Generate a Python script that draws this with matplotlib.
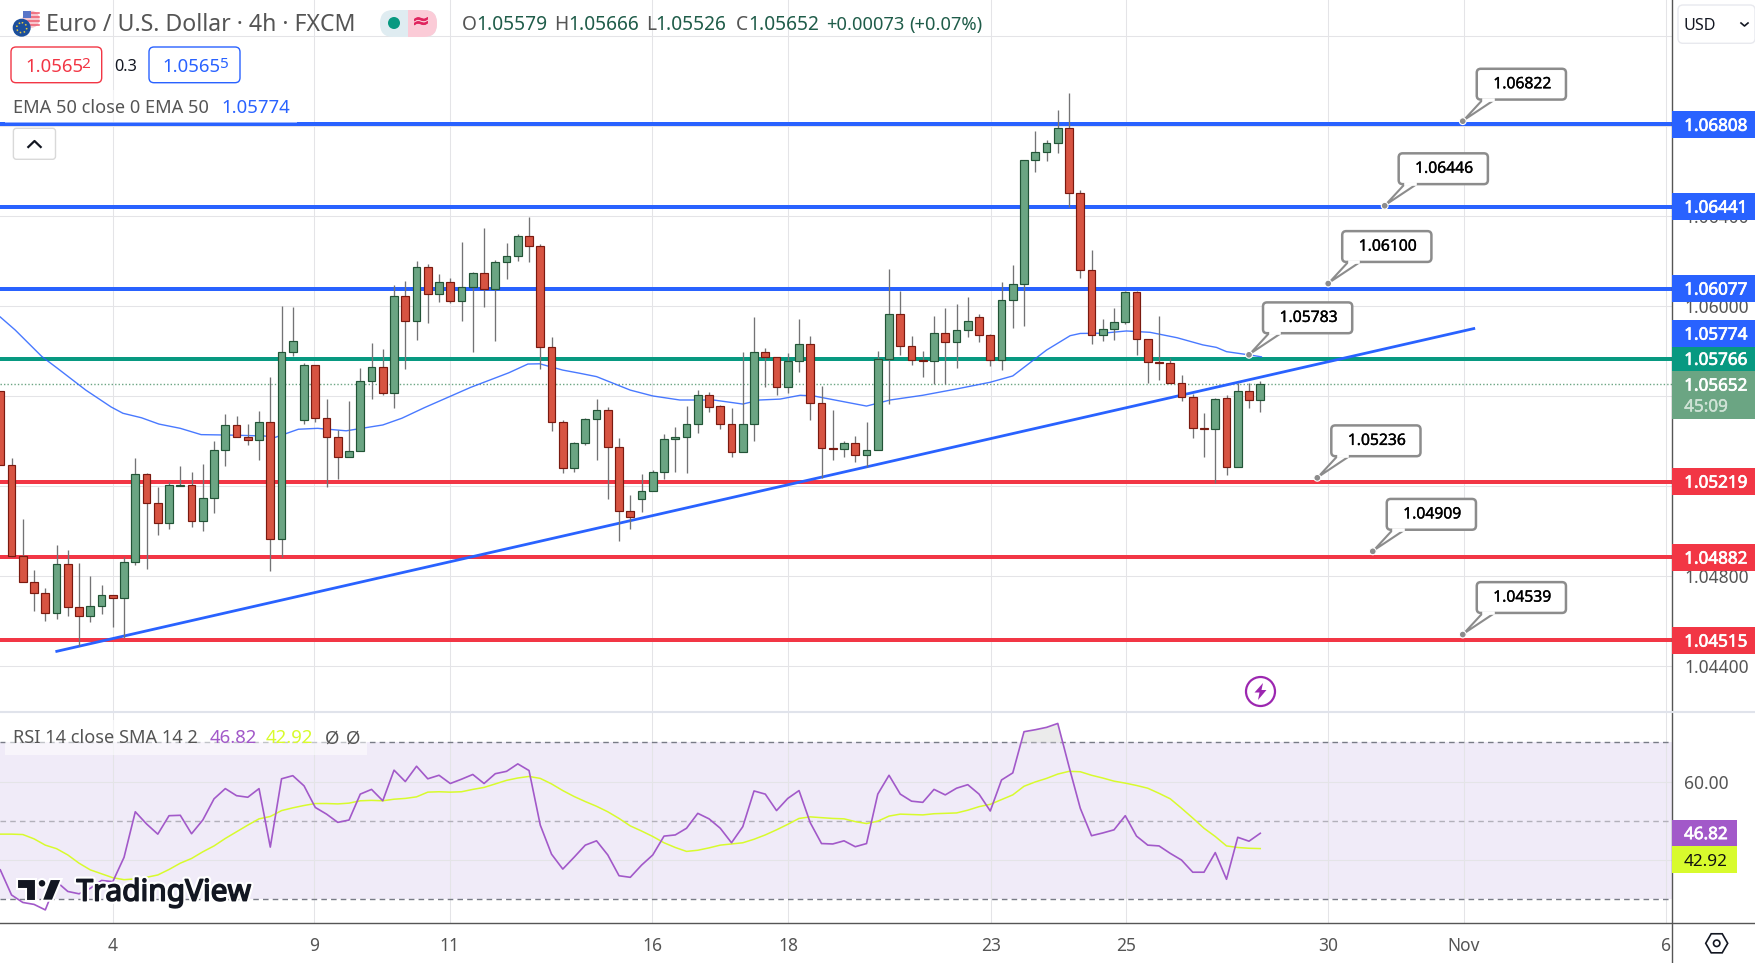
import numpy as np
import matplotlib
matplotlib.use("Agg")
import matplotlib.pyplot as plt
import matplotlib.patheffects as pe
from matplotlib.patches import FancyBboxPatch, Rectangle, Circle, Polygon

plt.rcParams['font.family'] = ['Noto Sans', 'DejaVu Sans']

# ---------- data (prices in 1e-5 units) ----------
opens = [105622,105293,104890,104771,104722,104633,104851,104660,104620,104665,104713,104700,104860,105252,105123,105034,105201,105203,105043,105145,
105358,105469,105416,105403,105483,104963,105794,105492,105736,105501,105416,105330,105354,105665,105727,105612,106043,105932,106172,106052,
106105,106024,106083,106145,106074,106194,106221,106310,106265,105816,105483,105278,105389,105496,105536,105374,105090,105140,105176,105260,
105407,105416,105474,105603,105554,105474,105352,105474,105794,105772,105641,105754,105830,105567,105367,105363,105389,105336,105358,105763,
105963,105821,105759,105754,105879,105839,105892,105950,105870,105759,106025,106096,106648,106683,106724,106790,106501,106159,105870,105896,
105928,106061,105852,105751,105745,105659,105594,105456,105452,105590,105283,105621,105581]
closes = [105293,104890,104771,104722,104633,104851,104660,104620,104665,104713,104700,104860,105252,105123,105034,105203,105204,105043,105145,105358,
105469,105416,105403,105483,104963,105794,105843,105736,105501,105416,105330,105354,105665,105727,105612,106043,105932,106172,106052,106105,
106024,106083,106145,106074,106194,106221,106310,106265,105816,105483,105278,105389,105496,105536,105374,105090,105063,105176,105260,105407,
105416,105474,105603,105552,105474,105352,105474,105794,105772,105641,105754,105830,105567,105367,105363,105389,105336,105358,105763,105963,
105821,105759,105754,105879,105839,105892,105932,105870,105759,106025,106096,106648,106683,106724,106790,106501,106159,105870,105896,105928,
106061,105852,105750,105745,105659,105594,105456,105452,105585,105283,105621,105581,105652]
highs = [105622,105324,105053,104826,104746,104937,104915,104857,104799,104759,104715,104885,105323,105256,105194,105219,105288,105260,105296,105400,
105520,105511,105475,105533,105684,106000,105996,105745,105738,105586,105449,105578,105724,105834,105809,106093,106111,106200,106185,106142,
106123,106285,106153,106346,106205,106280,106319,106394,106274,105861,105493,105395,105503,105586,105550,105412,105160,105253,105271,105431,
105462,105555,105626,105618,105560,105546,105794,105951,105812,105772,105791,105942,105867,105644,105538,105400,105422,105484,105799,106165,
106067,105867,105799,105956,105991,106008,106040,105963,105874,106107,106182,106648,106778,106738,106872,106946,106516,106249,105942,105991,
106067,106067,105852,105956,105767,105693,105609,105524,105590,105604,105656,105656,105666]
lows = [105293,104884,104771,104645,104601,104609,104623,104488,104596,104632,104574,104522,104848,104832,104983,105010,105201,105019,105001,105081,
105290,105416,105382,105316,104823,104882,105778,105477,105483,105196,105231,105327,105354,105586,105606,105548,105721,105849,105926,106019,
106015,105935,105797,105997,105846,106121,106201,106197,105721,105445,105259,105263,105381,105316,105142,104956,105008,105085,105176,105231,
105262,105259,105437,105530,105454,105330,105352,105401,105641,105604,105614,105708,105494,105234,105316,105330,105308,105283,105358,105566,
105782,105738,105686,105652,105652,105726,105863,105841,105735,105715,105904,105911,106597,106646,106682,106439,106126,105831,105846,105849,
105920,105782,105659,105671,105659,105579,105414,105330,105214,105248,105283,105548,105530]

ema_bars = [0,1.33,3.7,5.08,7.6,9.85,10.9,12.55,14.1,16,17.85,20.4,23.45,24.45,26.5,28.2,30.75,34,35.7,37.7,41.8,45.2,46.9,47.95,50,51.5,53,54.5,56,58,
60.4,63.4,66,67.5,69.3,71.1,72.3,77,79.1,82,85,88,90,93,95.1,96,98,100.1,102.2,104.6,106.9,108.1,109,111.1,112.1]
ema_vals = [105951,105893,105775,105723,105626,105551,105523,105503,105475,105456,105428,105426,105422,105416,105452,105456,105445,105471,105501,105548,
105638,105703,105742,105743,105715,105701,105686,105656,105626,105600,105582,105582,105564,105582,105586,105603,105600,105555,105582,105603,
105631,105661,105689,105804,105868,105878,105879,105889,105883,105859,105827,105816,105797,105782,105774]

rsi = [37.5,31.1,29.2,28.7,27.3,34.5,32.0,31.4,32.8,34.8,34.5,40.7,52.3,49.2,46.6,51.3,51.4,46.7,50.2,55.6,58.2,56.4,56.0,58.2,43.3,60.7,61.5,58.9,53.4,51.7,
49.6,50.2,56.8,58.0,55.1,62.9,60.0,63.9,60.7,61.6,59.5,60.6,61.8,59.5,62.0,62.6,64.5,62.8,48.9,41.5,37.7,40.7,43.8,44.9,41.3,36.0,35.6,38.7,41.3,46.1,
46.4,48.1,51.9,50.5,48.1,44.4,48.5,57.6,56.8,52.6,55.7,57.7,49.5,44.2,44.1,44.9,43.4,44.2,56.8,61.6,56.8,55.0,54.7,58.0,56.6,58.3,59.2,56.8,52.5,60.4,
62.2,72.7,73.2,73.8,74.8,63.8,53.2,46.2,46.9,47.7,51.3,46.1,43.8,43.6,41.7,40.0,36.9,36.9,41.9,35.1,45.8,44.8,46.82]
rsi_sma = [46.6,46.6,46.5,45.4,43.8,42.9,41.3,39.2,37.5,36.5,35.5,35.0,35.2,35.6,36.2,37.6,39.2,40.4,42.1,43.6,45.5,47.2,48.9,50.5,51.1,52.6,53.3,53.9,54.4,54.4,
54.3,54.5,55.1,55.2,55.1,55.5,55.7,56.1,57.3,57.4,57.3,57.4,58.0,58.5,59.4,60.3,60.9,61.3,60.8,59.4,57.7,56.2,54.9,53.7,52.3,50.6,48.7,47.4,46.0,44.4,
43.2,42.2,42.5,43.1,43.8,44.1,44.4,45.3,46.4,47.7,49.1,50.6,51.0,50.8,50.6,50.5,49.8,49.3,49.9,51.2,51.7,51.6,51.5,51.8,51.9,52.0,52.7,53.6,54.2,55.4,
56.6,58.8,59.9,60.8,61.9,62.6,62.5,61.6,60.9,60.1,59.6,59.0,58.3,57.0,55.6,53.2,50.7,48.1,46.0,43.6,43.2,43.0,42.92]

blue_levels = [1.06808, 1.06441, 1.06077]
green_level = 1.05766
red_levels = [1.05219, 1.04882, 1.04515]
last_price = 1.05652
ema_last = 1.05774
trend_bars = [4.9, 131.1]
trend_vals = [1.04463, 1.05901]

callout_bars = [130, 123.06, 118.04, 111, 117.07, 122, 130]
callout_vals = [1.06822, 1.06446, 1.06100, 1.05783, 1.05236, 1.04909, 1.04539]

price_ticks = [1.044, 1.048, 1.052, 1.056, 1.060, 1.064, 1.068, 1.072]
time_ticks = [10.0, 27.9, 39.95, 57.95, 70.05, 88.05, 100.1, 118.05, 130.1, 148.1]
time_labels = ['4', '9', '11', '16', '18', '23', '25', '30', 'Nov', '6']

# ---------- colours ----------
BLUE = '#2962ff'; RED = '#f23645'; GREEN = '#089981'; TXT = '#555555'
UP = '#6ba583'; DN = '#d75442'; UPB = '#225437'; DNB = '#7a1a10'; WICK = '#737375'
GRID = '#e4e4e7'; PURPLE = '#a259c9'; LIME = '#d8fb2d'

W, H = 1756, 963
fig = plt.figure(figsize=(W/100, H/100), dpi=100, facecolor='white')
ax = fig.add_axes([0, (H-711.5)/H, 1672/W, 711.5/H])
ar = fig.add_axes([0, (H-922.5)/H, 1672/W, 210/H])
ov = fig.add_axes([0, 0, 1, 1], zorder=10)
ov.set_xlim(0, W); ov.set_ylim(H, 0); ov.axis('off'); ov.patch.set_alpha(0)

xl = (-0.0267, 148.6)
for a in (ax, ar):
    a.set_xlim(*xl)
    for s in a.spines.values():
        s.set_visible(False)
    a.set_axisbelow(True)
    a.grid(True, color=GRID, lw=0.75)
    a.set_xticks(time_ticks)
    a.yaxis.tick_right()

# ---------- main pane ----------
ax.set_ylim(1.041967, 1.073609)
ax.set_yticks(price_ticks)
ax.set_yticklabels([f'{t:.5f}' for t in price_ticks])
ax.tick_params(axis='y', length=0, pad=8.8, labelsize=12.5, labelcolor=TXT)
ax.tick_params(axis='x', length=0, labelbottom=False)

for v in blue_levels:
    ax.axhline(v, color=BLUE, lw=2.88, zorder=1)
ax.axhline(green_level, color=GREEN, lw=2.88, zorder=1)
for v in red_levels:
    ax.axhline(v, color=RED, lw=2.88, zorder=1)
ax.axhline(last_price, color=UP, lw=1, ls=(0, (1, 1.5)), zorder=1)

ax.plot(trend_bars, trend_vals, color=BLUE, lw=2.0, zorder=2, solid_capstyle='butt')
ax.plot(ema_bars, np.array(ema_vals)/1e5, color=BLUE, lw=1.0, alpha=0.85, zorder=2)

o = np.array(opens)/1e5; c = np.array(closes)/1e5
h = np.array(highs)/1e5; l = np.array(lows)/1e5
bars = np.arange(len(o))
ax.vlines(bars, l, h, color=WICK, lw=0.95, zorder=3)
up = c >= o
ax.bar(bars[up], (c-o)[up], bottom=o[up], width=0.68, color=UP, edgecolor=UPB, lw=0.85, zorder=4)
ax.bar(bars[~up], (o-c)[~up], bottom=c[~up], width=0.68, color=DN, edgecolor=DNB, lw=0.85, zorder=4)

# ---------- RSI pane ----------
ar.set_ylim(24.09, 77.59)
ar.set_yticks([40, 60])
ar.set_yticklabels(['', '60.00'])
ar.tick_params(axis='y', length=0, pad=8.8, labelsize=12.5, labelcolor=TXT)
ar.set_xticklabels(time_labels)
ar.tick_params(axis='x', length=0, pad=10.5, labelsize=12.5, labelcolor=TXT)
ar.axhspan(30, 70, color='#7e57c2', alpha=0.115, lw=0, zorder=0.5)
ar.axhline(70, color='#787b86', lw=1, ls=(0, (4, 3)), zorder=1)
ar.axhline(30, color='#787b86', lw=1, ls=(0, (4, 3)), zorder=1)
ar.axhline(50, color='#b2b0ba', lw=1, ls=(0, (4, 3)), zorder=1)
rb = np.arange(len(rsi)); rv = np.array(rsi)
ar.fill_between(rb, 70, rv, where=rv >= 70, color='#d9d9d9', alpha=0.5, lw=0, interpolate=True, zorder=1)
ar.plot(rb, rsi_sma, color=LIME, lw=1.1, zorder=3)
ar.plot(rb, rsi, color=PURPLE, lw=1.2, zorder=4)

# ---------- overlay helpers ----------
def t(x, y, s, color=TXT, size=12, ha='left', weight='normal', cap=0.714, heavy=0):
    px = size*100/72
    tx = ov.text(x, y + cap*px/2, s, color=color, fontsize=size, ha=ha, va='baseline', fontweight=weight)
    if heavy:
        tx.set_path_effects([pe.withStroke(linewidth=heavy, foreground=color)])
    return tx

def box(x0, y0, x1, y1, fc='white', ec='none', lw=1, r=3, alpha=1, z=2):
    p = FancyBboxPatch((x0+r, y0+r), x1-x0-2*r, y1-y0-2*r, boxstyle=f'round,pad={r},rounding_size={r}',
                       fc=fc, ec=ec, lw=lw, alpha=alpha, zorder=z)
    ov.add_patch(p); return p

# right scale separators
ov.plot([1672, 1672], [0, H], color='#555555', lw=1.0, zorder=1)
ov.plot([0, W], [712, 712], color='#e0e3eb', lw=1.5, zorder=1)
ov.plot([0, W], [923, 923], color='#555555', lw=1.0, zorder=1)

# value badges
badges = [
    (111, 137.7, 124.7, '1.06808', BLUE),
    (193, 219.7, 206.5, '1.06441', BLUE),
    (275.3, 301.7, 288.5, '1.06077', BLUE),
    (320, 347, 333.5, '1.05774', BLUE),
    (347, 371, 358.7, '1.05766', GREEN),
    (468, 494.7, 481.5, '1.05219', RED),
    (544, 570.7, 557.5, '1.04882', RED),
    (627, 653.7, 640.5, '1.04515', RED),
]
for y0, y1, yc, s, col in badges:
    ov.add_patch(Rectangle((1672, y0), 84, y1-y0, fc=col, ec='none', zorder=3))
    t(1684.2, yc, s, color='white', size=12.3, heavy=0.5).set_zorder(5)
ov.add_patch(Rectangle((1672, 371), 84, 47.7, fc=UP, ec='none', zorder=3))
t(1684.2, 384.5, '1.05652', color='white', size=12.3, heavy=0.5).set_zorder(5)
t(1684.2, 405.4, '45:09', color='#cfe3d6', size=12.3, heavy=0.3).set_zorder(5)

ov.add_patch(Rectangle((1672, 820), 64.7, 26, fc=PURPLE, ec='none', zorder=3))
t(1684, 833, '46.82', color='white', size=12.3, heavy=0.5).set_zorder(5)
ov.add_patch(Rectangle((1672, 846), 64.7, 26.7, fc=LIME, ec='none', zorder=3))
t(1684, 859.5, '42.92', color='#111111', size=12.3).set_zorder(5)

# callouts anchored through the price scale
fig.canvas.draw()
for b, v in zip(callout_bars, callout_vals):
    dx, dy = ax.transData.transform((b, v))
    ax_px, ay_px = dx, H - dy
    bx0, bx1 = ax_px + 14, ax_px + 103.2
    by0, by1 = ay_px - 52.4, ay_px - 21.6
    box(bx0, by0, bx1, by1, fc='white', ec='#8c8c8c', lw=1.8, r=4, z=6)
    ov.add_patch(Polygon([(ax_px+1, ay_px-1), (ax_px+20, by1), (ax_px+32, by1)], closed=True,
                         fc='white', ec='#8c8c8c', lw=1.5, zorder=6.5, joinstyle='miter'))
    ov.plot([ax_px+21.5, ax_px+30], [by1, by1], color='white', lw=2.6, zorder=6.6)
    ov.add_patch(Circle((ax_px, ay_px), 3.4, fc='#8c8c8c', ec='white', lw=0.8, zorder=7))
    tx = t((bx0+bx1)/2+1, (by0+by1)/2-1.5, f'{v:.5f}', color='#000000', size=11.3, ha='center', heavy=0.25)
    tx.set_zorder(8)

# header
t(46, 23, 'Euro / U.S. Dollar · 4h · FXCM', color=TXT, size=16.6)
ov.add_patch(Circle((21.7, 27.7), 9, fc='#1c4f9c', ec='none', zorder=3))
ov.add_patch(Circle((21.7, 27.7), 5, fc='none', ec='#e8c93a', lw=1.1, ls=':', zorder=4))
ov.add_patch(Circle((31, 19.3), 8.6, fc='#f6c7ce', ec='none', zorder=2))
for yy in (13.5, 17.5, 21.5, 25):
    ov.plot([28, 39], [yy, yy], color='#ef5b6e', lw=1.1, zorder=2.2)
ov.add_patch(Rectangle((23.5, 11), 8, 7, fc='#5a76c8', ec='none', zorder=2.4))

ov.add_patch(FancyBboxPatch((385, 15), 47, 17, boxstyle='round,pad=5,rounding_size=13', fc='#dfecf1', ec='none', zorder=2))
clip = Rectangle((408, 0), 40, 50, transform=ov.transData)
pk = FancyBboxPatch((385, 15), 47, 17, boxstyle='round,pad=5,rounding_size=13', fc='#fbcbd7', ec='none', zorder=2.2)
ov.add_patch(pk); pk.set_clip_path(clip)
ov.add_patch(Circle((394, 23), 6, fc=GREEN, ec='none', zorder=3))
t(421, 23, '≈', color='#e0245e', size=15, ha='center', cap=0.45, heavy=0.6).set_zorder(3)

VAL = '#1f5c49'
for x, lab, val in [(462, 'O', '1.05579'), (554, 'H', '1.05666'), (646, 'L', '1.05526'), (736, 'C', '1.05652')]:
    t(x, 23, lab, color=TXT, size=13.8)
    off = {'O': 14, 'H': 14, 'L': 9.5, 'C': 12}[lab]
    t(x+off, 23, val, color=VAL, size=13.8)
t(826, 23, '+0.00073', color=VAL, size=13.2)
t(909, 23, '(+0.07%)', color=VAL, size=13.2)

# buy / sell
box(11, 47, 101.7, 82.7, fc='white', ec=RED, lw=1, r=5)
t(25, 65, '1.0565', color=RED, size=13.4)
t(81.7, 63, '2', color=RED, size=11)
t(125.5, 65, '0.3', color='#131722', size=11.8, ha='center')
box(149, 47, 240, 82.7, fc='white', ec=BLUE, lw=1, r=5)
t(162.3, 65, '1.0565', color=BLUE, size=13.4)
t(220, 63, '5', color=BLUE, size=11)

# indicator legend
ov.add_patch(Rectangle((4.7, 90), 292, 33.5, fc='white', ec='none', alpha=0.5, zorder=1.5))
t(13.4, 107, 'EMA 50 close 0 EMA 50', color=TXT, size=13.1)
t(221, 106.6, '1.05774', color=BLUE, size=13.4)
box(13.4, 128.3, 55.5, 159.3, fc='white', ec='#d9d9d9', lw=1, r=3)
ov.plot([28.3, 34.5, 40.7], [147, 141, 147], color='#131722', lw=1.6, zorder=4)

# currency button
box(1678, 5, 1755, 43.3, fc='white', ec='#e8e9ee', lw=1, r=5)
t(1684, 24, 'USD', color='#131722', size=11.6)
ov.plot([1741, 1744.5, 1748], [23, 26, 23], color='#131722', lw=1.2, zorder=4)

# lightning marker
ov.add_patch(Circle((1260.5, 691.5), 14.5, fc='white', ec='#9c27b0', lw=1.6, zorder=4))
ov.add_patch(Polygon([(1263, 683), (1254.5, 692.5), (1259.5, 692.5), (1258, 700), (1266.5, 690), (1261.5, 690)],
                     fc='#9c27b0', ec='none', zorder=5))

# RSI legend
ov.add_patch(Rectangle((5, 720), 362, 35, fc='white', ec='none', alpha=0.55, zorder=1.5))
t(13, 737, 'RSI 14 close SMA 14 2', color=TXT, size=13.1)
t(209.4, 736.6, '46.82', color=PURPLE, size=13.4)
t(266, 736.6, '42.92', color=LIME, size=13.4)
t(324.6, 736.6, 'Ø', color=TXT, size=13.4)
t(346, 736.6, 'Ø', color=TXT, size=13.4)

# TradingView logo
NAVY = '#131722'
halo = dict(ec='white', lw=1.5, zorder=6, fc=NAVY)
ov.add_patch(Polygon([(16.7, 879), (35.7, 879), (35.7, 900.7), (26, 900.7), (26, 889.3), (16.7, 889.3)], **halo))
ov.add_patch(Circle((42, 883.3), 4.3, **halo))
ov.add_patch(Polygon([(50, 879), (61.7, 879), (52.7, 900.7), (41.7, 900.7)], **halo))
tv = ov.text(76.5, 900.7, 'TradingView', color=NAVY, fontsize=21.5, ha='left', va='baseline', zorder=6)
tv.set_path_effects([pe.Stroke(linewidth=4.2, foreground='white'), pe.Stroke(linewidth=1.1, foreground=NAVY), pe.Normal()])

# gear
th = np.deg2rad(np.arange(0, 360, 60))
ov.add_patch(Polygon(np.c_[1716.7+11*np.cos(th), 943.3+11*np.sin(th)], closed=True, fc='white', ec='#131722', lw=1.2, zorder=4))
ov.add_patch(Circle((1716.7, 943.3), 3.2, fc='white', ec='#131722', lw=1.2, zorder=5))

fig.savefig('out.png', dpi=100)
